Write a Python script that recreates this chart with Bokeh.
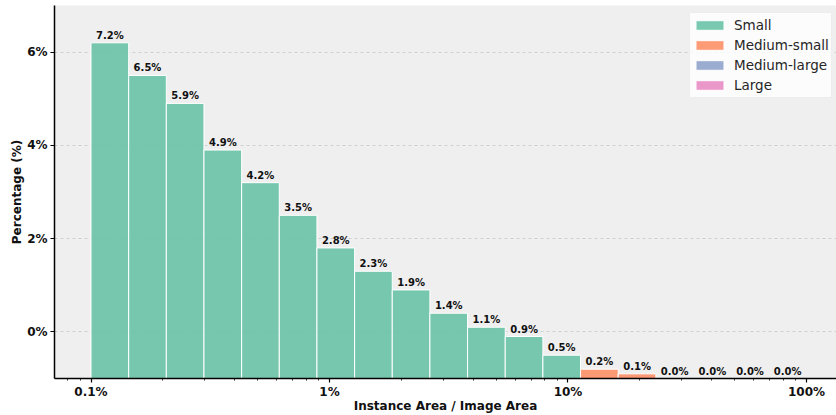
import numpy as np
from bokeh.plotting import figure
from bokeh.models import (ColumnDataSource, FixedTicker, CustomJSTickFormatter,
                          Legend, LegendItem, Range1d)
from bokeh.core.properties import value
from bokeh.embed import file_html
from bokeh.resources import INLINE

# Histogram of instance area relative to image area (log-spaced bins, in %)
bin_edges = np.logspace(-1, 2, 20)  # 0.1% .. 100%, 19 bins
percentages = [7.2, 6.5, 5.9, 4.9, 4.2, 3.5, 2.8, 2.3, 1.9, 1.4,
               1.1, 0.9, 0.5, 0.2, 0.1, 0.0, 0.0, 0.0, 0.0]
size_class = ["Small"] * 13 + ["Medium-small"] * 2 + ["Medium-large"] * 2 + ["Large"] * 2

classes = ["Small", "Medium-small", "Medium-large", "Large"]
class_colors = ["#66c2a5", "#fc8d62", "#8da0cb", "#e78ac3"]

x_tick_values = [0.1, 1, 10, 100]
y_tick_values = [1, 3, 5, 7]
y_tick_labels = ["0%", "2%", "4%", "6%"]

FONT = "DejaVu Sans"

p = figure(width=836, height=415, output_backend="svg", toolbar_location=None,
           x_axis_type="log",
           x_range=Range1d(0.0703, 133.6), y_range=Range1d(0, 8),
           min_border_left=54, min_border_right=0, min_border_top=5,
           min_border_bottom=37)

p.background_fill_color = "#efefef"
p.border_fill_color = "white"
p.outline_line_color = None

legend_items = []
for cls, col in zip(classes, class_colors):
    idx = [i for i, c in enumerate(size_class) if c == cls]
    src = ColumnDataSource(dict(
        left=[bin_edges[i] for i in idx],
        right=[bin_edges[i + 1] for i in idx],
        top=[percentages[i] for i in idx],
    ))
    r = p.quad(left="left", right="right", bottom=0, top="top", source=src,
               fill_color=col, fill_alpha=0.88, line_color="white", line_width=1)
    legend_items.append(LegendItem(label=cls, renderers=[r]))

# value labels above each bar
centers = [np.sqrt(bin_edges[i] * bin_edges[i + 1]) for i in range(len(percentages))]
lab_src = ColumnDataSource(dict(
    x=centers, y=percentages, text=[f"{v:.1f}%" for v in percentages]))
p.text(x="x", y="y", text="text", source=lab_src, text_align="center",
       text_baseline="bottom", y_offset=-2, text_font=value(FONT),
       text_font_style="bold", text_font_size="10px", text_color="#111111")

# axes
minor = [k * 10.0 ** d for d in range(-2, 3) for k in range(2, 10)]
p.xaxis.ticker = FixedTicker(ticks=x_tick_values, minor_ticks=minor)
p.xaxis.formatter = CustomJSTickFormatter(code="return tick + '%';")
p.yaxis.ticker = FixedTicker(ticks=y_tick_values)
p.yaxis.major_label_overrides = {v: s for v, s in zip(y_tick_values, y_tick_labels)}

for ax in (p.xaxis[0], p.yaxis[0]):
    ax.axis_line_color = "black"
    ax.axis_line_width = 1.5
    ax.major_tick_line_color = "black"
    ax.major_tick_line_width = 1.2
    ax.major_tick_out = 4
    ax.major_tick_in = 0
    ax.minor_tick_line_color = "black"
    ax.minor_tick_line_width = 0.8
    ax.minor_tick_out = 2
    ax.minor_tick_in = 0
    ax.major_label_text_font = FONT
    ax.major_label_text_font_style = "bold"
    ax.major_label_text_font_size = "12px"
    ax.major_label_text_color = "#111111"
    ax.axis_label_text_font = FONT
    ax.axis_label_text_font_style = "bold"
    ax.axis_label_text_font_size = "12px"
    ax.axis_label_text_color = "#111111"

p.xaxis.axis_label = "Instance Area / Image Area"
p.yaxis.axis_label = "Percentage (%)"
p.xaxis.major_label_standoff = 2
p.xaxis.axis_label_standoff = -3
p.yaxis.major_label_standoff = 3
p.yaxis.axis_label_standoff = 0
p.yaxis.minor_tick_line_color = None

p.xgrid.grid_line_color = None
p.ygrid.grid_line_color = "#c8c8c8"
p.ygrid.grid_line_dash = "3 3"
p.ygrid.grid_line_width = 0.8

legend = Legend(items=legend_items, location=(635, 280),
                label_text_font=FONT, label_text_font_size="13.5px",
                label_text_color="#262626",
                glyph_width=35, glyph_height=12, label_height=20,
                label_standoff=7, spacing=0, padding=2, margin=0,
                background_fill_color="white", background_fill_alpha=0.8,
                border_line_color="#dddddd", border_line_width=1)
p.add_layout(legend)

open("out.html", "w").write(file_html(p, INLINE))
